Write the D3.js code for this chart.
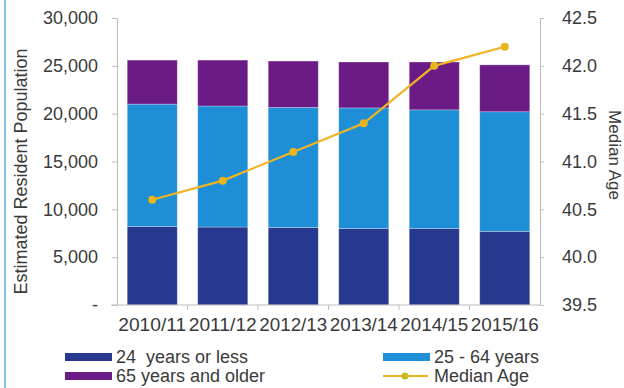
<!DOCTYPE html>
<html>
<head>
<meta charset="utf-8">
<script src="https://cdn.jsdelivr.net/npm/d3@7"></script>
<style>
  body { margin: 0; background: #fff; }
  text { font-family: Arial, "Liberation Sans", sans-serif; fill: #3a3a3a; }
</style>
</head>
<body>
<div id="chart"></div>
<script>
// Data
var years = ["2010/11", "2011/12", "2012/13", "2013/14", "2014/15", "2015/16"];
var age0to24 = [8200, 8150, 8100, 8000, 8000, 7700];
var age25to64 = [12800, 12650, 12550, 12600, 12400, 12500];
var age65plus = [4600, 4800, 4850, 4800, 5000, 4900];
var medianAge = [40.6, 40.8, 41.1, 41.4, 42.0, 42.2];
var seriesNames = ["24  years or less", "25 - 64 years", "65 years and older"];
var leftTicks = [0, 5000, 10000, 15000, 20000, 25000, 30000];
var rightTicks = [39.5, 40.0, 40.5, 41.0, 41.5, 42.0, 42.5];

var W = 624, H = 388;
var margin = {top: 18, right: 84, bottom: 83, left: 117},
    width = W - margin.left - margin.right,
    height = H - margin.top - margin.bottom;

var colors = ["#27388f", "#1e8fd6", "#6a1b85"];
var lineColor = "#f0b323";
var axisColor = "#bdbdbd";

var svg = d3.select("#chart")
  .append("svg")
    .attr("width", W)
    .attr("height", H);

// thin blue frame edge on the left
svg.append("line")
  .attr("x1", 5).attr("x2", 5)
  .attr("y1", 0).attr("y2", H)
  .attr("stroke", "#5aaee0")
  .attr("stroke-width", 1.5);

var g = svg.append("g")
  .attr("transform", "translate(" + margin.left + "," + margin.top + ")");

// build stacked table
var table = years.map(function(y, i) {
  return {year: y, s0: age0to24[i], s1: age25to64[i], s2: age65plus[i]};
});
var stack = d3.stack().keys(["s0", "s1", "s2"])(table);

// scales
var x = d3.scaleBand()
  .domain(years)
  .range([0, width])
  .paddingInner(0.29)
  .paddingOuter(0.145);

var y = d3.scaleLinear()
  .domain([0, 30000])
  .range([height, 0]);

var y2 = d3.scaleLinear()
  .domain([39.5, 42.5])
  .range([height, 0]);

// bars
g.append("g")
  .selectAll("g")
  .data(stack)
  .enter()
  .append("g")
    .attr("fill", function(d, i) { return colors[i]; })
  .selectAll("rect")
  .data(function(d) { return d; })
  .enter()
  .append("rect")
    .attr("x", function(d) { return x(d.data.year); })
    .attr("y", function(d) { return y(d[1]); })
    .attr("height", function(d) { return y(d[0]) - y(d[1]); })
    .attr("width", x.bandwidth())
    .attr("stroke", "#ffffff")
    .attr("stroke-opacity", 0.35)
    .attr("stroke-width", 0.8);

// left axis
var leftAxis = g.append("g")
  .call(d3.axisLeft(y)
    .tickValues(leftTicks)
    .tickSize(5)
    .tickPadding(14)
    .tickFormat(function(d) { return d === 0 ? "-" : d3.format(",")(d); }));
leftAxis.selectAll("text").style("font-size", "18px");

// right axis
var rightAxis = g.append("g")
  .attr("transform", "translate(" + width + ",0)")
  .call(d3.axisRight(y2)
    .tickValues(rightTicks)
    .tickSize(4)
    .tickPadding(18)
    .tickFormat(d3.format(".1f")));
rightAxis.selectAll("text").style("font-size", "18px");

// bottom axis, ticks between categories
var bottom = g.append("g")
  .attr("transform", "translate(0," + height + ")");
bottom.append("line")
  .attr("x1", -6).attr("x2", width)
  .attr("stroke", axisColor);
bottom.selectAll(".sep")
  .data(years.slice(1))
  .enter()
  .append("line")
    .attr("x1", function(d) { return x(d) - x.step() * x.paddingInner() / 2; })
    .attr("x2", function(d) { return x(d) - x.step() * x.paddingInner() / 2; })
    .attr("y1", 0).attr("y2", 5)
    .attr("stroke", axisColor);
bottom.selectAll(".lab")
  .data(years)
  .enter()
  .append("text")
    .attr("x", function(d) { return x(d) + x.bandwidth() / 2; })
    .attr("y", 26)
    .attr("text-anchor", "middle")
    .style("font-size", "18px")
    .attr("textLength", 68)
    .attr("lengthAdjust", "spacingAndGlyphs")
    .text(function(d) { return d; });

g.selectAll(".domain").attr("stroke", axisColor);
g.selectAll(".tick line").attr("stroke", axisColor);

// median age line
var line = d3.line()
  .x(function(d, i) { return x(years[i]) + x.bandwidth() / 2; })
  .y(function(d) { return y2(d); });

g.append("path")
  .datum(medianAge)
  .attr("fill", "none")
  .attr("stroke", lineColor)
  .attr("stroke-width", 2.2)
  .attr("d", line);

g.selectAll(".pt")
  .data(medianAge)
  .enter()
  .append("circle")
    .attr("cx", function(d, i) { return x(years[i]) + x.bandwidth() / 2; })
    .attr("cy", function(d) { return y2(d); })
    .attr("r", 4)
    .attr("fill", "#e8b51c");

// axis titles
svg.append("text")
  .attr("transform", "translate(27," + (margin.top + height / 2 + 10) + ") rotate(-90)")
  .attr("text-anchor", "middle")
  .style("font-size", "18px")
  .text("Estimated Resident Population");

svg.append("text")
  .attr("transform", "translate(609,155) rotate(90)")
  .attr("text-anchor", "middle")
  .style("font-size", "17px")
  .text("Median Age");

// legend
var legend = [
  {label: seriesNames[0], color: colors[0], x: 65, y: 357, type: "bar"},
  {label: seriesNames[1], color: colors[1], x: 383, y: 357, type: "bar"},
  {label: seriesNames[2], color: colors[2], x: 65, y: 376, type: "bar"},
  {label: "Median Age", color: lineColor, x: 383, y: 376, type: "line"}
];
var lg = svg.append("g")
  .selectAll("g")
  .data(legend)
  .enter()
  .append("g")
    .attr("transform", function(d) { return "translate(" + d.x + "," + d.y + ")"; });

lg.filter(function(d) { return d.type === "bar"; })
  .append("rect")
    .attr("x", 0).attr("y", -4)
    .attr("width", 47).attr("height", 8)
    .attr("fill", function(d) { return d.color; });

lg.filter(function(d) { return d.type === "line"; })
  .append("line")
    .attr("x1", 0).attr("x2", 45)
    .attr("stroke", lineColor)
    .attr("stroke-width", 2);
lg.filter(function(d) { return d.type === "line"; })
  .append("circle")
    .attr("cx", 22).attr("r", 3.5)
    .attr("fill", "#c9b81e");

lg.append("text")
  .attr("x", 51)
  .attr("y", 6)
  .style("font-size", "18px")
  .style("white-space", "pre")
  .text(function(d) { return d.label; });
</script>
</body>
</html>
